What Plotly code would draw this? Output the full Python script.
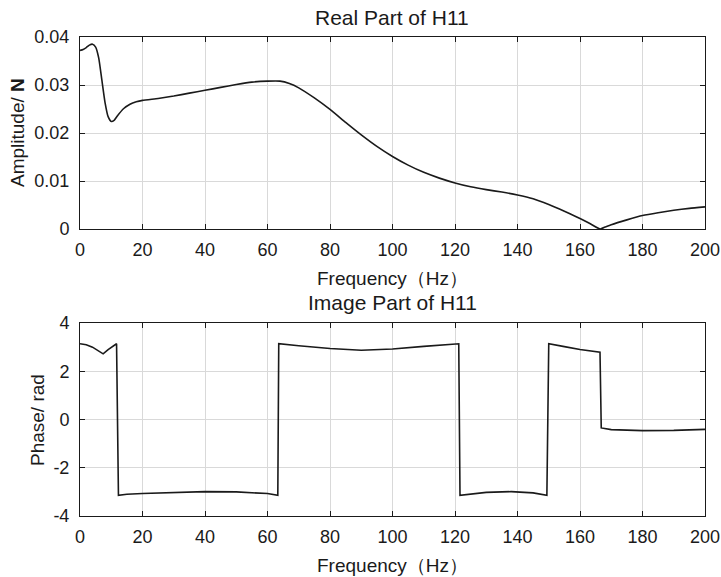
import plotly.graph_objects as go

# ---- data ----
freq_real = [0, 1, 2, 3, 4, 5, 6, 7, 8, 9, 10, 11, 12, 14, 16, 18, 20, 25, 30, 35, 40, 45,
             50, 55, 60, 64, 67, 70, 75, 80, 85, 90, 95, 100, 105, 110, 115, 120, 125, 130,
             135, 140, 145, 150, 155, 160, 163, 166.4, 168, 170, 175, 180, 185, 190, 195, 200]
amp_real = [0.0372, 0.0374, 0.0378, 0.0383, 0.0385, 0.0379, 0.0356, 0.0310, 0.0264, 0.0234,
            0.0224, 0.0227, 0.0236, 0.0251, 0.0260, 0.0265, 0.0268, 0.0272, 0.0277, 0.0283,
            0.0289, 0.0295, 0.0301, 0.0306, 0.0308, 0.0308, 0.0303, 0.0294, 0.0273, 0.0249,
            0.0222, 0.0196, 0.0172, 0.0151, 0.0133, 0.0118, 0.0106, 0.0096, 0.0088, 0.0082,
            0.0077, 0.0071, 0.0063, 0.0051, 0.0037, 0.0022, 0.0012, 0.0000, 0.0004, 0.0009,
            0.0019, 0.0028, 0.0034, 0.0039, 0.0043, 0.0046]

freq_phase = [0, 2, 4, 6, 7.4, 9, 11.7, 12.3, 15, 20, 30, 40, 50, 60, 63.3, 63.6, 70, 80, 90,
              100, 110, 121.2, 121.6, 125, 130, 138, 145, 149.4, 150, 155, 160, 166.4, 166.8,
              170, 180, 190, 200]
phase = [3.14, 3.10, 3.0, 2.85, 2.72, 2.9, 3.14, -3.14, -3.10, -3.07, -3.02, -2.99, -3.0,
         -3.07, -3.14, 3.14, 3.06, 2.94, 2.87, 2.92, 3.03, 3.14, -3.14, -3.08, -3.02, -2.99,
         -3.04, -3.14, 3.14, 3.02, 2.90, 2.79, -0.35, -0.42, -0.46, -0.45, -0.41]

x_ticks = [0, 20, 40, 60, 80, 100, 120, 140, 160, 180, 200]
amp_ticks = [0, 0.01, 0.02, 0.03, 0.04]
amp_tick_text = ["0", "0.01", "0.02", "0.03", "0.04"]
phase_ticks = [-4, -2, 0, 2, 4]
phase_tick_text = ["-4", "-2", "0", "2", "4"]

W, H = 721, 577
FONT = "Liberation Sans, Arial, sans-serif"
DARK = "#1a1a1a"
GRID = "#d9d9d9"

def px(x):
    return x / W

def py(y):
    return 1 - y / H

fig = go.Figure()
fig.add_trace(go.Scatter(x=freq_real, y=amp_real, mode="lines",
                         line=dict(color=DARK, width=1.6, shape="spline", smoothing=0.5),
                         xaxis="x", yaxis="y", showlegend=False))
fig.add_trace(go.Scatter(x=freq_phase, y=phase, mode="lines",
                         line=dict(color=DARK, width=1.6), xaxis="x2", yaxis="y2",
                         showlegend=False))

ax_common = dict(showline=True, linecolor=DARK, linewidth=1, mirror="ticks",
                 ticks="inside", ticklen=5, tickcolor=DARK, showgrid=True,
                 gridcolor=GRID, gridwidth=1, zeroline=False, automargin=False,
                 tickfont=dict(family=FONT, size=18, color=DARK))

x_dom = [px(80), px(705)]
fig.update_layout(
    width=W, height=H, margin=dict(l=0, r=0, t=0, b=0),
    paper_bgcolor="white", plot_bgcolor="white",
    xaxis=dict(domain=x_dom, range=[0, 200], tickvals=x_ticks, anchor="y",
               ticklabelstandoff=4, **ax_common),
    yaxis=dict(domain=[py(229), py(37)], range=[0, 0.04], tickvals=amp_ticks,
               ticktext=amp_tick_text, anchor="x", ticklabelstandoff=6, **ax_common),
    xaxis2=dict(domain=x_dom, range=[0, 200], tickvals=x_ticks, anchor="y2",
                ticklabelstandoff=4, **ax_common),
    yaxis2=dict(domain=[py(516), py(323)], range=[-4, 4], tickvals=phase_ticks,
                ticktext=phase_tick_text, anchor="x2", ticklabelstandoff=6, **ax_common),
)

def ann(text, x, y, size=19, angle=0):
    fig.add_annotation(text=text, x=px(x), y=py(y), xref="paper", yref="paper",
                       showarrow=False, xanchor="center", yanchor="middle",
                       textangle=angle, font=dict(family=FONT, size=size, color=DARK))

ann("Real Part of H11", 392, 18, size=21)
ann("Frequency（Hz）", 392, 279)
ann("Image Part of H11", 392, 302, size=21)
ann("Frequency（Hz）", 392, 565)
ann("Amplitude/ <b>N</b>", 17, 133, angle=-90)
ann("Phase/ rad", 37, 420, angle=-90)

fig.write_html("out.html")
